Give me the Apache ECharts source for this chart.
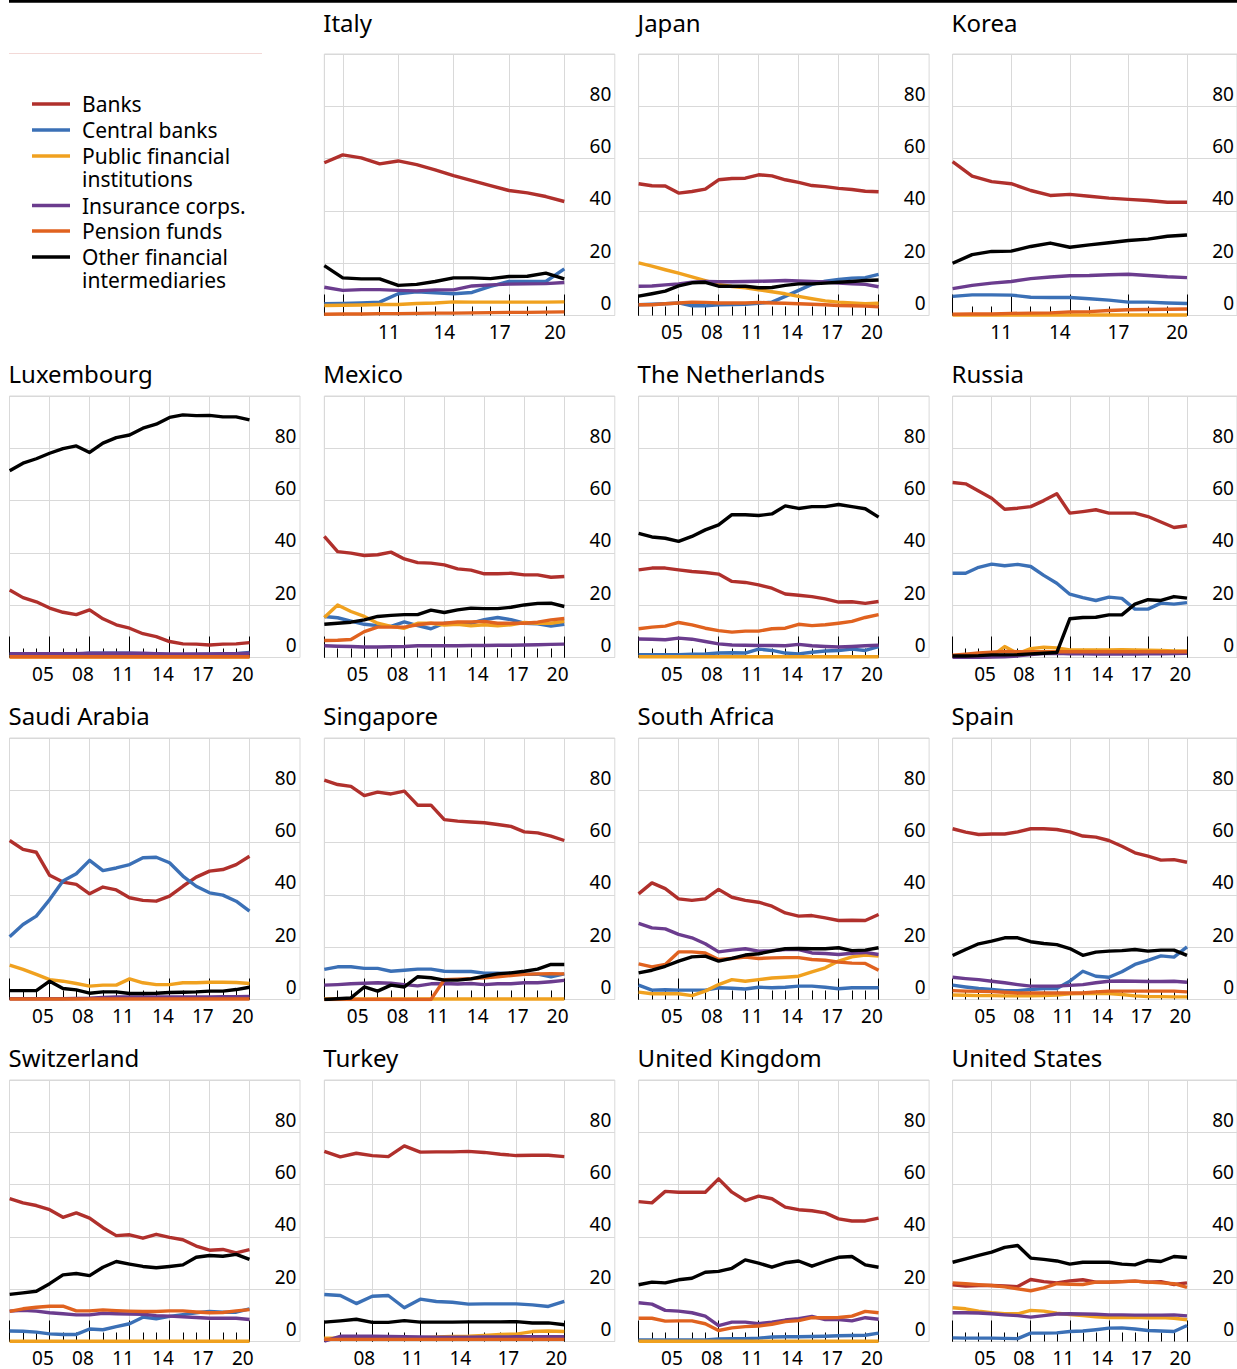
<!DOCTYPE html>
<html><head><meta charset="utf-8">
<script src="https://cdn.jsdelivr.net/npm/echarts@6/dist/echarts.min.js"></script>
<style>html,body{margin:0;padding:0;background:#fff}#c{width:1237px;height:1369px}</style>
</head><body><div id="c"></div><script>
// ---------- categories / labels ----------
const seriesNames = ['Banks', 'Central banks', 'Public financial institutions', 'Insurance corps.', 'Pension funds', 'Other financial intermediaries'];
const legendLabels = ['Banks', 'Central banks', 'Public financial\ninstitutions', 'Insurance corps.', 'Pension funds', 'Other financial\nintermediaries'];
const seriesColors = ['#b0302c', '#3b70b6', '#f0a11f', '#6b3c8e', '#e0621f', '#000000'];
const yTicks = [0, 20, 40, 60, 80];
const countries = ['Italy', 'Japan', 'Korea', 'Luxembourg', 'Mexico', 'The Netherlands', 'Russia', 'Saudi Arabia', 'Singapore', 'South Africa', 'Spain', 'Switzerland', 'Turkey', 'United Kingdom', 'United States'];
const firstYears = [2007, 2002, 2008, 2002, 2002, 2002, 2002, 2002, 2002, 2002, 2002, 2002, 2005, 2002, 2002];
const lastYear = 2020;

// ---------- data (% share), one value per year from first year to 2020 ----------
const italyBanks = [58.4, 61.4, 60.3, 58.0, 59.1, 57.7, 55.7, 53.5, 51.6, 49.7, 47.8, 46.9, 45.5, 43.6];
const italyCentral = [4.5, 4.6, 4.8, 5.1, 8.3, 9.1, 8.7, 8.3, 8.8, 11.1, 13.0, 13.0, 13.0, 17.8];
const italyPublic = [3.8, 3.9, 4.0, 4.2, 4.2, 4.6, 4.8, 5.2, 5.1, 5.1, 5.1, 5.1, 5.1, 5.2];
const italyInsurance = [10.8, 9.6, 9.9, 9.9, 9.6, 9.4, 9.8, 9.8, 11.3, 11.7, 12.0, 12.1, 12.2, 12.6];
const italyPension = [0.5, 0.6, 0.6, 0.7, 0.7, 0.8, 0.9, 0.9, 1.0, 1.1, 1.2, 1.2, 1.3, 1.4];
const italyOther = [19.1, 14.4, 14.0, 14.0, 11.5, 11.9, 13.0, 14.4, 14.4, 14.1, 14.9, 15.0, 16.2, 14.0];

const japanBanks = [50.4, 49.6, 49.5, 46.8, 47.4, 48.3, 51.9, 52.4, 52.5, 53.8, 53.4, 51.9, 50.9, 49.7, 49.3, 48.6, 48.2, 47.5, 47.3];
const japanCentral = [4.1, 4.3, 4.5, 4.8, 3.7, 3.7, 4.1, 4.2, 4.3, 4.7, 5.1, 7.3, 9.6, 11.9, 13.1, 13.8, 14.3, 14.5, 15.7];
const japanPublic = [20.1, 18.9, 17.5, 16.2, 14.8, 13.3, 11.9, 11.1, 10.6, 9.8, 9.1, 8.3, 7.3, 6.4, 5.6, 5.1, 4.8, 4.5, 4.7];
const japanInsurance = [11.2, 11.3, 11.7, 12.1, 12.7, 13.0, 12.9, 12.9, 13.0, 13.1, 13.2, 13.4, 13.2, 13.0, 12.8, 12.4, 12.1, 11.9, 11.0];
const japanPension = [4.1, 4.1, 4.5, 4.8, 5.1, 5.0, 4.8, 4.8, 4.8, 5.0, 4.8, 4.7, 4.5, 4.3, 4.1, 3.8, 3.7, 3.6, 3.3];
const japanOther = [7.4, 8.3, 9.3, 11.3, 12.5, 12.7, 11.2, 11.2, 11.2, 10.6, 10.7, 11.5, 12.1, 12.1, 12.4, 12.7, 13.0, 13.4, 13.6];

const koreaBanks = [58.8, 53.3, 51.2, 50.4, 47.8, 45.9, 46.3, 45.6, 44.9, 44.4, 44.0, 43.3, 43.3];
const koreaCentral = [7.3, 7.9, 7.9, 7.8, 7.0, 6.9, 6.9, 6.4, 5.9, 5.1, 5.1, 4.8, 4.6];
const koreaPublic = [0.2, 0.2, 0.2, 0.2, 0.2, 0.2, 0.2, 0.2, 0.2, 0.2, 0.2, 0.2, 0.2];
const koreaInsurance = [10.3, 11.5, 12.4, 13.0, 14.1, 14.7, 15.2, 15.3, 15.6, 15.8, 15.3, 14.8, 14.5];
const koreaPension = [0.5, 0.6, 0.6, 0.8, 0.9, 1.0, 1.4, 1.5, 1.9, 2.2, 2.3, 2.4, 2.5];
const koreaOther = [20.0, 23.3, 24.5, 24.6, 26.4, 27.7, 26.1, 27.0, 27.8, 28.7, 29.2, 30.3, 30.8];

const luxBanks = [25.8, 22.9, 21.3, 18.9, 17.3, 16.4, 18.2, 14.8, 12.5, 11.2, 9.1, 8.0, 6.1, 5.2, 5.1, 4.8, 5.1, 5.2, 5.7];
const luxCentral = [1.1, 1.1, 1.1, 1.2, 1.2, 1.3, 1.6, 1.6, 1.6, 1.6, 1.5, 1.4, 1.1, 1.1, 1.2, 1.3, 1.4, 1.5, 1.9];
const luxPublic = [0.2, 0.2, 0.2, 0.2, 0.2, 0.2, 0.2, 0.2, 0.2, 0.2, 0.2, 0.2, 0.2, 0.2, 0.2, 0.2, 0.2, 0.2, 0.2];
const luxInsurance = [1.5, 1.5, 1.5, 1.5, 1.5, 1.5, 1.6, 1.6, 1.6, 1.6, 1.6, 1.5, 1.4, 1.4, 1.4, 1.4, 1.5, 1.5, 1.6];
const luxPension = [0.3, 0.3, 0.3, 0.3, 0.3, 0.3, 0.3, 0.3, 0.3, 0.3, 0.3, 0.3, 0.3, 0.3, 0.3, 0.3, 0.3, 0.3, 0.3];
const luxOther = [71.4, 74.3, 76.0, 78.1, 79.9, 80.9, 78.4, 82.0, 84.1, 85.1, 87.7, 89.2, 91.8, 92.8, 92.5, 92.6, 92.0, 92.0, 90.9];

const mexBanks = [46.3, 40.5, 39.9, 39.0, 39.3, 40.3, 37.7, 36.3, 36.1, 35.4, 33.9, 33.4, 32.0, 32.0, 32.2, 31.6, 31.6, 30.7, 31.0];
const mexCentral = [15.7, 15.2, 13.9, 12.7, 12.2, 11.9, 13.6, 12.2, 11.0, 13.1, 12.9, 13.1, 14.5, 15.3, 14.5, 13.1, 12.9, 12.0, 12.7];
const mexPublic = [15.3, 20.1, 17.6, 15.7, 13.1, 11.9, 11.2, 13.1, 13.1, 12.4, 12.7, 12.1, 12.5, 12.1, 12.5, 13.4, 13.1, 13.1, 13.8];
const mexInsurance = [4.5, 4.3, 4.2, 4.0, 4.0, 4.1, 4.2, 4.5, 4.5, 4.5, 4.5, 4.6, 4.6, 4.7, 4.7, 4.8, 4.9, 5.0, 5.1];
const mexPension = [6.5, 6.6, 6.9, 9.9, 11.6, 11.6, 11.6, 12.5, 13.1, 13.1, 13.6, 13.6, 13.8, 13.1, 13.1, 13.1, 13.5, 14.4, 14.9];
const mexOther = [12.7, 13.1, 13.5, 14.4, 15.7, 16.1, 16.4, 16.4, 18.1, 17.2, 18.2, 18.9, 18.7, 18.7, 19.2, 20.1, 20.7, 20.8, 19.5];

const nldBanks = [33.5, 34.2, 34.2, 33.5, 32.9, 32.5, 31.9, 29.1, 28.7, 27.8, 26.5, 24.3, 23.8, 23.3, 22.4, 21.2, 21.3, 20.7, 21.4];
const nldCentral = [1.1, 1.1, 1.1, 1.1, 1.3, 1.4, 1.7, 1.8, 1.7, 3.2, 2.7, 1.7, 1.4, 2.0, 2.5, 2.7, 3.2, 2.7, 4.2];
const nldPublic = [0.3, 0.3, 0.3, 0.3, 0.3, 0.3, 0.3, 0.3, 0.3, 0.3, 0.3, 0.3, 0.3, 0.3, 0.3, 0.3, 0.3, 0.3, 0.3];
const nldInsurance = [7.1, 7.0, 6.8, 7.4, 7.0, 6.1, 5.2, 4.8, 4.7, 4.6, 4.6, 4.5, 5.0, 4.5, 4.2, 4.0, 4.2, 4.5, 4.7];
const nldPension = [11.0, 11.6, 12.0, 13.4, 12.5, 11.2, 10.3, 9.7, 10.1, 10.1, 11.0, 11.2, 12.7, 12.2, 12.5, 13.1, 13.8, 15.3, 16.4];
const nldOther = [47.5, 46.1, 45.6, 44.4, 46.3, 48.8, 50.7, 54.6, 54.6, 54.3, 54.9, 58.0, 57.0, 57.7, 57.7, 58.5, 57.7, 56.9, 53.7];

const rusBanks = [66.9, 66.4, 63.7, 60.9, 56.7, 57.1, 57.7, 60.0, 62.6, 55.2, 55.8, 56.5, 55.2, 55.2, 55.2, 53.9, 51.8, 49.7, 50.4];
const rusCentral = [32.2, 32.2, 34.5, 35.7, 35.1, 35.6, 34.8, 31.4, 28.4, 24.2, 22.9, 21.8, 23.1, 22.6, 18.5, 18.5, 20.8, 20.4, 21.0];
const rusPublic = [0.3, 0.3, 0.3, 0.4, 4.2, 1.5, 3.4, 3.9, 3.7, 2.9, 2.9, 2.9, 2.9, 3.0, 2.9, 2.8, 2.7, 2.5, 2.5];
const rusInsurance = [0.1, 0.1, 0.1, 0.2, 0.3, 0.6, 1.1, 1.5, 1.6, 1.4, 1.4, 1.3, 1.3, 1.3, 1.3, 1.4, 1.4, 1.5, 1.6];
const rusPension = [0.9, 1.3, 1.7, 2.0, 2.3, 2.2, 2.2, 2.2, 2.2, 2.2, 2.2, 2.2, 2.2, 2.2, 2.2, 2.2, 2.2, 2.2, 2.2];
const rusOther = [0.6, 0.6, 0.7, 1.0, 1.0, 1.1, 1.4, 1.6, 1.9, 14.8, 15.3, 15.4, 16.3, 16.3, 20.4, 22.1, 21.8, 23.3, 22.7];

const sauBanks = [60.8, 57.4, 56.3, 47.5, 44.9, 44.0, 40.4, 43.0, 41.9, 38.9, 37.9, 37.6, 39.5, 43.3, 46.8, 49.1, 49.7, 51.6, 54.8];
const sauCentral = [24.0, 28.7, 31.9, 38.2, 45.3, 48.1, 53.2, 49.3, 50.3, 51.6, 54.2, 54.4, 52.3, 47.2, 43.3, 40.8, 39.9, 37.6, 33.8];
const sauPublic = [13.1, 11.5, 9.6, 7.6, 7.0, 6.1, 5.1, 5.5, 5.5, 7.9, 6.4, 5.7, 5.7, 6.4, 6.4, 6.6, 6.6, 6.5, 6.1];
const sauInsurance = [0.3, 0.3, 0.3, 0.3, 0.3, 0.4, 0.5, 0.8, 1.0, 1.0, 1.0, 1.0, 1.0, 1.0, 1.0, 1.0, 1.1, 1.1, 1.2];
const sauPension = [0.2, 0.2, 0.2, 0.2, 0.2, 0.2, 0.2, 0.2, 0.2, 0.2, 0.2, 0.2, 0.2, 0.2, 0.2, 0.2, 0.2, 0.2, 0.2];
const sauOther = [3.4, 3.4, 3.4, 7.0, 4.2, 3.7, 2.4, 2.9, 2.9, 2.3, 2.3, 2.4, 2.7, 2.8, 2.9, 3.2, 3.2, 3.8, 4.7];

const sgpBanks = [83.9, 82.2, 81.5, 78.0, 79.3, 78.6, 79.7, 74.3, 74.3, 68.8, 68.2, 67.9, 67.6, 66.9, 66.2, 64.1, 63.7, 62.5, 60.8];
const sgpCentral = [11.5, 12.5, 12.5, 11.9, 11.9, 10.8, 11.2, 11.6, 11.6, 10.8, 10.7, 10.7, 10.1, 10.1, 10.0, 9.6, 9.7, 8.7, 9.8];
const sgpPublic = [0.2, 0.2, 0.2, 0.2, 0.2, 0.2, 0.2, 0.2, 0.2, 0.2, 0.2, 0.2, 0.2, 0.2, 0.2, 0.2, 0.2, 0.2, 0.2];
const sgpInsurance = [5.5, 5.7, 6.0, 6.2, 6.4, 6.2, 5.7, 5.2, 6.0, 6.1, 5.9, 6.1, 5.7, 6.0, 6.0, 6.4, 6.4, 6.8, 7.3];
const sgpPension = [0.0, 0.0, 0.0, 0.0, 0.0, 0.0, 0.0, 0.0, 0.0, 7.6, 7.8, 8.0, 8.3, 8.7, 9.2, 9.6, 9.8, 9.9, 9.8];
const sgpOther = [0.0, 0.3, 0.6, 4.8, 3.2, 5.5, 4.8, 8.7, 8.3, 7.4, 7.4, 7.9, 8.9, 9.8, 10.2, 10.8, 11.6, 13.4, 13.4];

const zafBanks = [40.4, 44.6, 42.4, 38.5, 37.9, 38.5, 42.1, 39.1, 37.9, 37.2, 35.7, 33.1, 31.9, 32.1, 31.2, 30.2, 30.3, 30.2, 32.5];
const zafCentral = [5.5, 3.6, 3.7, 3.6, 3.6, 3.6, 4.5, 4.3, 4.0, 4.7, 4.5, 4.7, 5.1, 5.1, 4.7, 4.1, 4.5, 4.5, 4.5];
const zafPublic = [2.8, 2.2, 2.2, 2.2, 1.5, 3.2, 5.7, 7.6, 7.0, 7.6, 8.2, 8.5, 8.9, 10.6, 12.1, 14.7, 16.3, 17.0, 16.6];
const zafInsurance = [29.1, 27.4, 27.0, 24.9, 23.6, 21.3, 18.2, 18.9, 19.4, 18.5, 18.7, 19.1, 19.1, 17.8, 17.6, 17.2, 17.7, 18.0, 17.2];
const zafPension = [13.6, 12.5, 13.4, 18.2, 18.2, 17.8, 15.3, 15.7, 16.2, 15.7, 15.9, 16.0, 16.0, 15.3, 15.0, 14.3, 13.9, 13.8, 11.2];
const zafOther = [10.2, 11.2, 12.7, 14.7, 16.3, 16.6, 14.7, 15.7, 17.0, 17.5, 18.5, 19.4, 19.5, 19.4, 19.4, 19.8, 18.7, 18.9, 19.8];

const espBanks = [65.3, 64.0, 63.1, 63.3, 63.3, 64.1, 65.3, 65.3, 65.0, 64.1, 62.5, 62.1, 60.8, 58.6, 56.1, 54.8, 53.3, 53.5, 52.5];
const espCentral = [5.5, 4.8, 4.2, 3.8, 3.4, 3.4, 3.8, 4.2, 4.2, 7.0, 10.8, 8.9, 8.5, 10.6, 13.4, 15.0, 16.7, 16.2, 20.1];
const espPublic = [1.7, 1.6, 1.5, 1.5, 1.4, 1.4, 1.4, 1.5, 1.7, 2.2, 2.3, 2.4, 2.3, 1.9, 1.4, 1.1, 1.1, 1.0, 1.0];
const espInsurance = [8.5, 8.0, 7.6, 7.0, 6.4, 5.7, 5.1, 5.1, 5.1, 5.4, 5.7, 6.4, 7.0, 7.1, 7.0, 6.9, 6.9, 7.0, 6.6];
const espPension = [3.4, 3.2, 3.1, 3.0, 2.8, 2.5, 2.5, 2.5, 2.5, 2.5, 2.5, 2.9, 3.2, 3.2, 3.2, 3.2, 3.2, 3.2, 2.9];
const espOther = [16.8, 19.1, 21.3, 22.3, 23.6, 23.6, 22.1, 21.4, 21.0, 19.5, 16.9, 18.1, 18.5, 18.7, 19.1, 18.5, 18.9, 18.9, 16.9];

const cheBanks = [54.6, 53.0, 52.0, 50.4, 47.5, 49.2, 47.2, 43.5, 40.5, 40.8, 39.5, 41.0, 39.8, 38.9, 36.5, 34.9, 35.2, 33.9, 35.1];
const cheCentral = [4.0, 3.9, 3.6, 2.9, 2.7, 2.7, 4.8, 4.5, 5.7, 6.8, 9.3, 8.7, 9.6, 10.3, 11.0, 11.5, 11.2, 11.2, 12.5];
const chePublic = [0.1, 0.1, 0.1, 0.1, 0.1, 0.1, 0.1, 0.1, 0.1, 0.1, 0.1, 0.1, 0.1, 0.1, 0.1, 0.1, 0.1, 0.1, 0.1];
const cheInsurance = [11.6, 11.9, 11.6, 11.0, 10.6, 10.2, 10.2, 10.8, 10.6, 10.5, 10.4, 9.9, 9.7, 9.4, 9.2, 8.9, 8.9, 8.9, 8.4];
const chePension = [11.5, 12.5, 13.1, 13.5, 13.5, 11.7, 11.7, 12.1, 11.8, 11.6, 11.5, 11.5, 11.7, 11.7, 11.3, 11.0, 11.1, 11.7, 12.2];
const cheOther = [18.0, 18.6, 19.2, 22.1, 25.5, 26.0, 25.2, 28.4, 30.6, 29.6, 28.7, 28.2, 28.7, 29.3, 32.2, 32.9, 32.6, 33.3, 31.4];

const turBanks = [72.7, 70.6, 72.0, 71.1, 70.7, 74.8, 72.4, 72.5, 72.5, 72.7, 72.3, 71.6, 71.1, 71.2, 71.2, 70.7];
const turCentral = [18.0, 17.6, 14.5, 17.3, 17.6, 12.9, 16.2, 15.3, 15.0, 14.3, 14.4, 14.4, 14.4, 14.0, 13.4, 15.3];
const turPublic = [1.3, 1.3, 1.3, 1.3, 1.3, 1.3, 1.4, 1.7, 1.9, 2.0, 2.3, 2.7, 2.8, 3.8, 4.0, 3.8];
const turInsurance = [0.1, 2.0, 2.0, 2.0, 1.9, 1.8, 1.7, 1.6, 1.6, 1.6, 1.7, 1.7, 1.8, 1.8, 1.8, 1.8];
const turPension = [0.8, 0.8, 0.8, 0.8, 0.8, 0.8, 0.8, 0.8, 0.8, 0.8, 0.8, 0.8, 0.8, 0.8, 0.8, 0.8];
const turOther = [7.4, 7.9, 8.5, 7.3, 7.3, 8.0, 7.4, 7.4, 7.4, 7.5, 7.5, 7.5, 7.6, 7.1, 7.1, 6.4];

const gbrBanks = [53.5, 53.0, 57.4, 57.1, 57.1, 57.1, 62.2, 57.1, 53.9, 55.6, 54.6, 51.4, 50.4, 50.0, 49.2, 46.9, 46.1, 46.1, 47.2];
const gbrCentral = [0.6, 0.6, 0.6, 0.6, 0.6, 0.6, 1.0, 1.1, 1.1, 1.3, 1.7, 1.8, 1.8, 1.9, 2.0, 2.2, 2.3, 2.4, 3.2];
const gbrPublic = [0.1, 0.1, 0.1, 0.1, 0.1, 0.1, 0.1, 0.1, 0.1, 0.1, 0.1, 0.1, 0.1, 0.1, 0.1, 0.1, 0.1, 0.1, 0.1];
const gbrInsurance = [14.8, 14.3, 11.9, 11.6, 11.0, 9.7, 6.1, 7.4, 7.4, 6.8, 7.4, 8.2, 8.7, 9.6, 8.4, 8.4, 7.9, 9.1, 8.5];
const gbrPension = [8.9, 8.9, 7.8, 7.9, 7.9, 6.8, 4.2, 5.2, 5.7, 5.9, 6.6, 7.6, 8.0, 9.1, 9.1, 9.2, 9.7, 11.5, 11.0];
const gbrOther = [21.7, 22.7, 22.4, 23.6, 24.2, 26.5, 26.8, 28.0, 31.2, 30.0, 28.4, 30.1, 30.8, 28.8, 30.6, 32.2, 32.5, 29.3, 28.4];

const usaBanks = [21.7, 21.2, 21.4, 21.4, 21.2, 21.0, 23.7, 22.9, 22.4, 23.2, 23.6, 22.7, 22.7, 22.9, 23.1, 22.7, 22.9, 21.8, 22.4];
const usaCentral = [1.4, 1.3, 1.3, 1.3, 1.2, 1.1, 3.2, 3.2, 3.3, 3.8, 4.0, 4.5, 5.1, 5.2, 4.8, 4.2, 4.0, 3.8, 6.1];
const usaPublic = [12.9, 12.5, 11.6, 11.0, 10.6, 10.6, 11.9, 11.6, 10.8, 10.3, 9.9, 9.4, 9.2, 9.2, 9.3, 9.1, 9.2, 8.9, 8.3];
const usaInsurance = [11.0, 11.0, 10.9, 10.6, 10.2, 9.9, 9.3, 9.9, 10.5, 10.6, 10.5, 10.4, 10.2, 10.2, 10.1, 10.1, 10.1, 10.2, 9.8];
const usaPension = [22.4, 22.1, 21.7, 21.4, 20.9, 20.1, 19.4, 20.5, 22.1, 21.9, 21.8, 22.7, 22.7, 22.9, 23.1, 22.7, 22.4, 22.1, 20.7];
const usaOther = [30.3, 31.6, 32.9, 34.2, 36.0, 36.7, 31.9, 31.4, 30.8, 29.6, 30.3, 30.3, 30.3, 29.6, 29.3, 31.0, 30.6, 32.5, 32.1];

const panelSeries = [
  [italyBanks, italyCentral, italyPublic, italyInsurance, italyPension, italyOther],
  [japanBanks, japanCentral, japanPublic, japanInsurance, japanPension, japanOther],
  [koreaBanks, koreaCentral, koreaPublic, koreaInsurance, koreaPension, koreaOther],
  [luxBanks, luxCentral, luxPublic, luxInsurance, luxPension, luxOther],
  [mexBanks, mexCentral, mexPublic, mexInsurance, mexPension, mexOther],
  [nldBanks, nldCentral, nldPublic, nldInsurance, nldPension, nldOther],
  [rusBanks, rusCentral, rusPublic, rusInsurance, rusPension, rusOther],
  [sauBanks, sauCentral, sauPublic, sauInsurance, sauPension, sauOther],
  [sgpBanks, sgpCentral, sgpPublic, sgpInsurance, sgpPension, sgpOther],
  [zafBanks, zafCentral, zafPublic, zafInsurance, zafPension, zafOther],
  [espBanks, espCentral, espPublic, espInsurance, espPension, espOther],
  [cheBanks, cheCentral, chePublic, cheInsurance, chePension, cheOther],
  [turBanks, turCentral, turPublic, turInsurance, turPension, turOther],
  [gbrBanks, gbrCentral, gbrPublic, gbrInsurance, gbrPension, gbrOther],
  [usaBanks, usaCentral, usaPublic, usaInsurance, usaPension, usaOther]
];

// ---------- layout ----------
const FONT = '"Noto Sans", "Open Sans", sans-serif';
const GRID_C = '#d9d9d9';
const COL_LEFT = [9.5, 324.3, 638.6, 952.6];
const ROW_TOP = [54, 396, 738, 1080];
const TITLE_CY = [24.5, 375, 717, 1059];
const BOX_W = 290.5, BOX_H = 261.5, PLOT_W = 240;

const grids = [], xAxes = [], yAxes = [], series = [], titles = [], graphics = [];

countries.forEach((name, p) => {
  const cell = p + 1, row = Math.floor(cell / 4), col = cell % 4;
  const left = COL_LEFT[col], top = ROW_TOP[row];
  const first = firstYears[p], span = lastYear - first, pxYear = PLOT_W / span;

  titles.push({ text: name, left: left - 1, top: TITLE_CY[row] - 14, padding: 0,
    textStyle: { fontSize: 24, fontWeight: 'normal', color: '#000', fontFamily: FONT } });

  // frame grid: box border + horizontal gridlines spanning the full box
  const gA = grids.length;
  grids.push({ left, top, width: BOX_W, height: BOX_H, show: true, borderColor: GRID_C, borderWidth: 1, backgroundColor: 'transparent' });
  xAxes.push({ gridIndex: gA, type: 'value', min: 0, max: 1, show: false });
  yAxes.push({ gridIndex: gA, type: 'value', min: 0, max: 100, interval: 20,
    axisLine: { show: false }, axisTick: { show: false }, axisLabel: { show: false },
    splitLine: { show: true, lineStyle: { color: GRID_C, width: 1 } } });

  // data grid: first year .. 2020 (axis inverted so that 2020 sits at 0)
  const gB = grids.length;
  grids.push({ left, top, width: PLOT_W, height: BOX_H });
  const xB = xAxes.length;
  xAxes.push({ gridIndex: gB, type: 'value', position: 'bottom', inverse: true, min: 0, max: span, interval: 3,
    axisLine: { show: false },
    axisTick: { show: true, inside: true, length: 21, lineStyle: { color: '#000', width: 1 } },
    splitLine: { show: true, lineStyle: { color: GRID_C, width: 1 } },
    axisLabel: { margin: 7, fontSize: 19, lineHeight: 19, color: '#000', fontFamily: FONT, padding: [0, pxYear, 0, 0],
      showMinLabel: true, showMaxLabel: true,
      formatter: (v) => { const yr = lastYear - Math.round(v); if (yr <= first + 1) return ''; return String(yr % 100).padStart(2, '0'); } } });
  xAxes.push({ gridIndex: gB, type: 'value', position: 'bottom', inverse: true, min: 0, max: span, interval: 1,
    axisLine: { show: false }, axisLabel: { show: false }, splitLine: { show: false },
    axisTick: { show: true, inside: true, length: 9, lineStyle: { color: '#000', width: 1 } } });
  const yB = yAxes.length;
  yAxes.push({ gridIndex: gB, type: 'value', position: 'right', min: 0, max: 100, interval: 20,
    axisLine: { show: false }, axisTick: { show: false }, splitLine: { show: false },
    axisLabel: { inside: false, margin: 47, align: 'right', verticalAlign: 'bottom', padding: [0, 0, 3, 0],
      fontSize: 19, color: '#000', fontFamily: FONT,
      formatter: (v) => (yTicks.indexOf(v) >= 0 ? String(v) : '') } });

  panelSeries[p].forEach((vals, s) => {
    series.push({
      name: seriesNames[s], type: 'line', xAxisIndex: xB, yAxisIndex: yB,
      data: vals.map((v, i) => [lastYear - (first + i), v]),
      symbol: 'none', silent: true, animation: false,
      lineStyle: { color: seriesColors[s], width: 3.4, join: 'round' },
      itemStyle: { color: seriesColors[s] }
    });
  });
});

// top rule and legend cell
graphics.push({ type: 'rect', shape: { x: 9, y: 0, width: 1240, height: 2.7 }, style: { fill: '#000' }, silent: true });
graphics.push({ type: 'line', shape: { x1: 9, y1: 53.5, x2: 262, y2: 53.5 }, style: { stroke: '#f3d9d7', lineWidth: 1 }, silent: true });
const legendY = [104, 130, 156, 205.5, 231, 257];
legendLabels.forEach((label, s) => {
  const cy = legendY[s];
  graphics.push({ type: 'line', shape: { x1: 32, y1: cy, x2: 70, y2: cy }, style: { stroke: seriesColors[s], lineWidth: 3.5 }, silent: true });
  graphics.push({ type: 'text', x: 82, y: cy - 11.25, silent: true,
    style: { text: label, fill: '#000', fontSize: 21, lineHeight: 22.5, fontFamily: FONT, align: 'left', verticalAlign: 'top' } });
});

const chart = echarts.init(document.getElementById('c'), null, { renderer: 'svg', width: 1237, height: 1369 });
chart.setOption({
  animation: false,
  backgroundColor: '#fff',
  textStyle: { fontFamily: FONT },
  title: titles,
  grid: grids,
  xAxis: xAxes,
  yAxis: yAxes,
  series: series,
  graphic: graphics
});
</script></body></html>
